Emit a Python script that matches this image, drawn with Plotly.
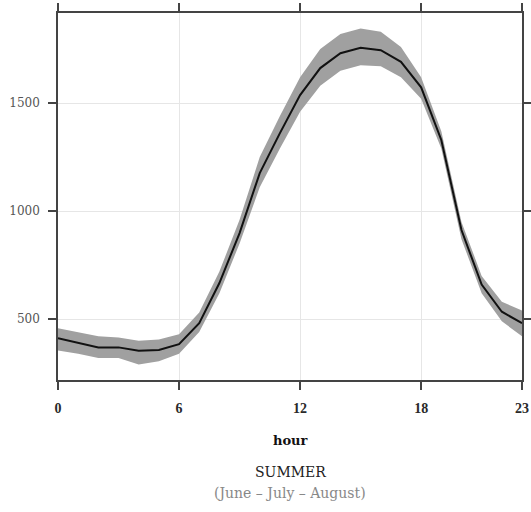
import plotly.graph_objects as go

hours = list(range(24))
mean_load = [411, 390, 369, 369, 353, 357, 384, 481, 667, 898, 1176, 1361,
             1537, 1662, 1731, 1756, 1745, 1691, 1573, 1329, 912, 660, 534, 481]
upper = [458, 440, 420, 415, 400, 405, 430, 530, 720, 960, 1250, 1440,
         1620, 1750, 1820, 1845, 1830, 1760, 1620, 1370, 950, 700, 580, 540]
lower = [355, 340, 320, 320, 290, 305, 340, 440, 620, 850, 1110, 1290,
         1460, 1580, 1650, 1675, 1670, 1620, 1520, 1290, 870, 620, 490, 420]
x_ticks = [0, 6, 12, 18, 23]
y_ticks = [500, 1000, 1500]

fig = go.Figure()
fig.add_trace(go.Scatter(x=hours, y=upper, mode="lines", line=dict(width=0, color="#a0a0a0"),
                         showlegend=False, hoverinfo="skip"))
fig.add_trace(go.Scatter(x=hours, y=lower, mode="lines", line=dict(width=0, color="#a0a0a0"),
                         fill="tonexty", fillcolor="#a0a0a0", showlegend=False, hoverinfo="skip"))
fig.add_trace(go.Scatter(x=hours, y=mean_load, mode="lines", line=dict(width=2, color="#111111"),
                         showlegend=False))

axis_common = dict(showline=True, linecolor="#444444", linewidth=1.5, mirror="ticks",
                   ticks="outside", ticklen=8, tickwidth=1.5, tickcolor="#444444",
                   showgrid=True, gridcolor="#e6e6e6", gridwidth=1, zeroline=False,
                   automargin=False, ticklabeloverflow="allow")

fig.update_xaxes(range=[0, 23], tickvals=x_ticks, ticklabelstandoff=6,
                 tickfont=dict(family="Liberation Serif", size=14, color="#2a2a2a", weight="bold"),
                 **axis_common)
fig.update_yaxes(range=[218, 1917], tickvals=y_ticks, ticklabelstandoff=6,
                 tickfont=dict(family="DejaVu Serif", size=12, color="#555555"),
                 **axis_common)

fig.add_annotation(text="<b>hour</b>", x=0.5, y=-0.166, xref="paper", yref="paper",
                   showarrow=False, yanchor="middle",
                   font=dict(family="DejaVu Serif", size=13, color="#111111"))
fig.add_annotation(text="SUMMER", x=0.5, y=-0.251, xref="paper", yref="paper",
                   showarrow=False, yanchor="middle",
                   font=dict(family="DejaVu Serif", size=14, color="#222222"))
fig.add_annotation(text="(June – July – August)", x=0.5, y=-0.308, xref="paper", yref="paper",
                   showarrow=False, yanchor="middle",
                   font=dict(family="DejaVu Serif", size=14, color="#888888"))

fig.update_layout(width=531, height=512, margin=dict(l=58, r=9, t=13, b=132),
                  plot_bgcolor="white", paper_bgcolor="white")
fig.write_html("out.html")
